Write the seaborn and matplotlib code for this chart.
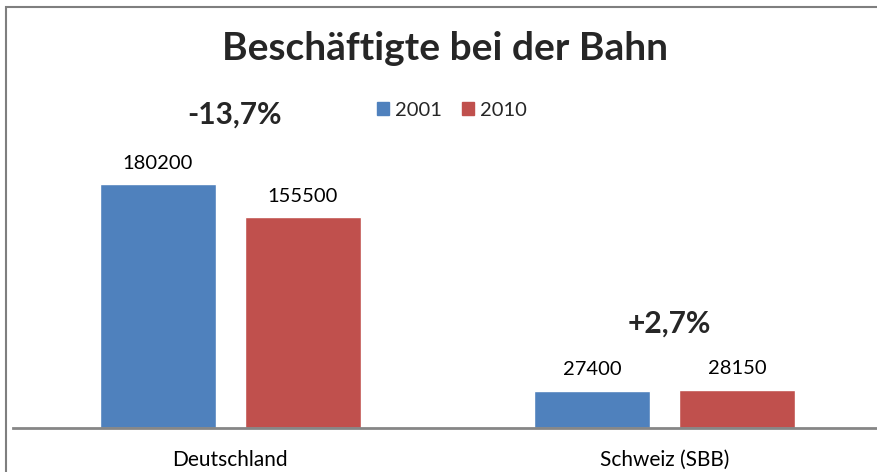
import matplotlib
matplotlib.use("Agg")
import matplotlib.pyplot as plt
import matplotlib.patches as mpatches
import seaborn as sns
import pandas as pd

categories = ["Deutschland", "Schweiz (SBB)"]
years = ["2001", "2010"]
values_2001 = [180200, 27400]
values_2010 = [155500, 28150]
pct_labels = ["-13,7%", "+2,7%"]
title = "Beschäftigte bei der Bahn"

df = pd.DataFrame({
    "Land": categories * 2,
    "Jahr": [years[0]] * 2 + [years[1]] * 2,
    "Wert": values_2001 + values_2010,
})

sns.set_theme(style="white")
plt.rcParams["font.family"] = ["Lato", "DejaVu Sans"]

W, H = 877, 472
fig = plt.figure(figsize=(W / 100, H / 100), dpi=100)
ax = fig.add_axes([13 / W, (H - 428) / H, (882 - 13) / W, (428 - 89.5) / H])

palette = {"2001": "#4F81BD", "2010": "#C0504D"}
sns.barplot(data=df, x="Land", y="Wert", hue="Jahr", order=categories,
            hue_order=years, palette=palette, width=0.667, gap=0.2,
            saturation=1, ax=ax, legend=False)

ax.set_xlim(-0.5, 1.5)
ax.set_ylim(0, 250000)
for s in ["top", "right", "left"]:
    ax.spines[s].set_visible(False)
ax.spines["bottom"].set_color("#868686")
ax.spines["bottom"].set_linewidth(2)
ax.set_yticks([])
ax.set_xlabel("")
ax.set_ylabel("")
ax.tick_params(axis="x", length=0, pad=15.5, labelsize=15, colors="black")

for cont in ax.containers:
    ax.bar_label(cont, labels=[f"{int(v)}" for v in cont.datavalues],
                 padding=9, fontsize=14.5, color="black")

offsets = [50, 48]
for i, lab in enumerate(pct_labels):
    top = max(values_2001[i], values_2010[i])
    ax.annotate(lab, (i + 0.01, top), xytext=(0, offsets[i]),
                textcoords="offset points", ha="center", va="center",
                fontsize=21.5, fontweight="bold")

fig.text(445 / W, 1 - 48 / H, title, ha="center", va="center",
         fontsize=28, fontweight="bold")

handles = [mpatches.Patch(color=palette[y], label=y) for y in years]
fig.legend(handles=handles, loc="center", bbox_to_anchor=(452 / W, 1 - 110 / H),
           ncol=2, frameon=False, fontsize=14.5, handlelength=0.6,
           handleheight=0.6, handletextpad=0.3, columnspacing=1.0)

border = mpatches.Rectangle((6 / W, -0.1), 1.1, (H - 7) / H + 0.1,
                            transform=fig.transFigure, fill=False,
                            edgecolor="#7f7f7f", linewidth=1.5)
fig.add_artist(border)

fig.savefig("out.png", dpi=100)
